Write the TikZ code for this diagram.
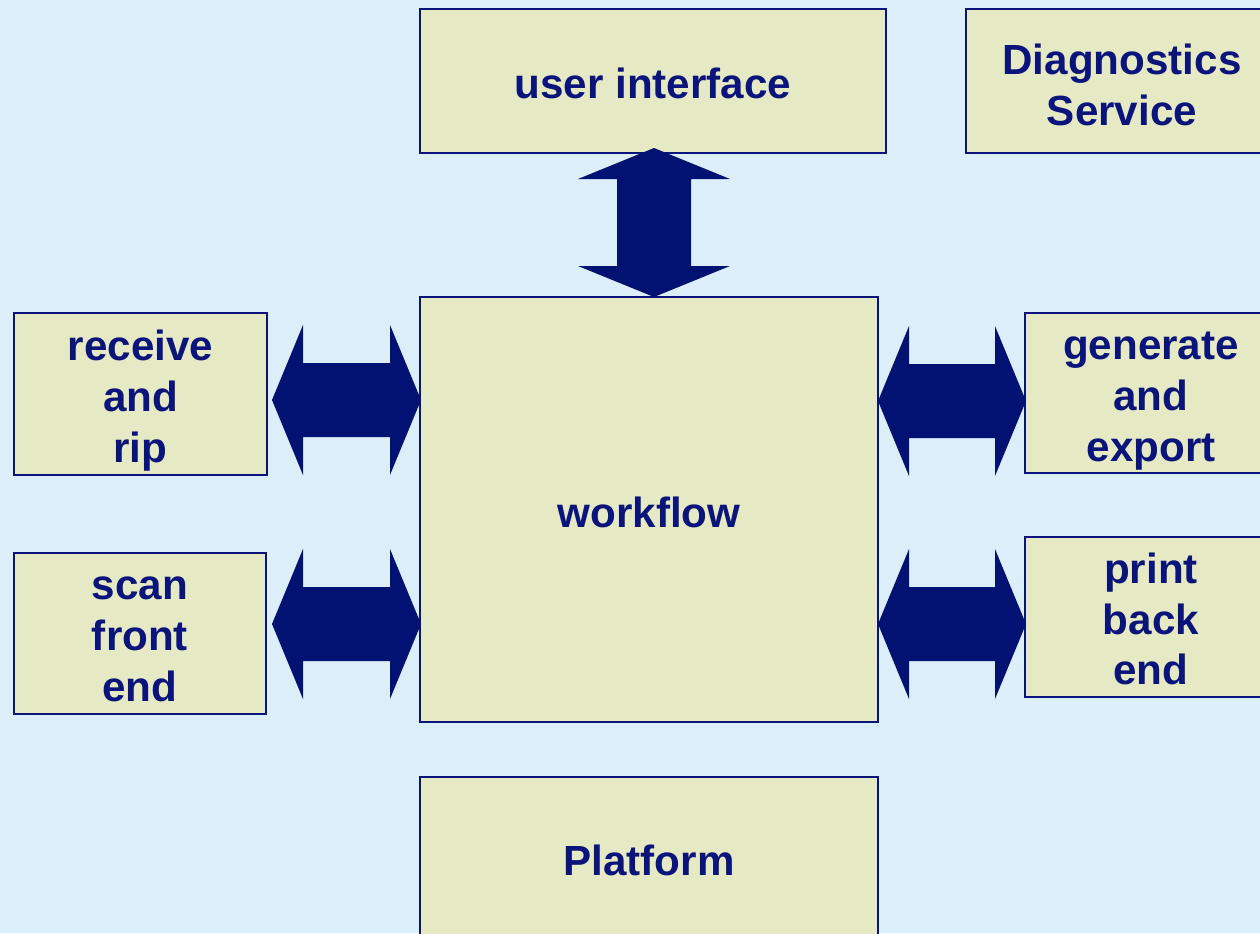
\documentclass[tikz,border=0pt]{standalone}
\usepackage{fontspec}
\setmainfont{Liberation Sans}
\usetikzlibrary{calc}

\definecolor{bgblue}{HTML}{DCEEFA}
\definecolor{boxfill}{HTML}{E6EAC4}
\definecolor{navy}{HTML}{0A147A}
\definecolor{arrownavy}{HTML}{021273}

\tikzset{
  unit/.style={draw=navy,line width=1pt,fill=boxfill,inner sep=0pt},
  txt/.style={text=navy,align=center,inner sep=0pt,
    font=\bfseries\fontsize{24}{29}\selectfont},
  fat/.style={fill=arrownavy}
}

% block double arrows, head 31 long, 150 high, shaft 74
\newcommand{\harrow}[2]{%
  \fill[fat] (#1) -- ($(#1)+(31,-75)$) -- ($(#1)+(31,-37)$) -- ($(#2)+(-31,-37)$)
    -- ($(#2)+(-31,-75)$) -- (#2) -- ($(#2)+(-31,75)$) -- ($(#2)+(-31,37)$)
    -- ($(#1)+(31,37)$) -- ($(#1)+(31,75)$) -- cycle;}
\newcommand{\varrow}[2]{%
  \fill[fat] (#1) -- ($(#1)+(-76,31)$) -- ($(#1)+(-37,31)$) -- ($(#2)+(-37,-31)$)
    -- ($(#2)+(-76,-31)$) -- (#2) -- ($(#2)+(76,-31)$) -- ($(#2)+(37,-31)$)
    -- ($(#1)+(37,31)$) -- ($(#1)+(76,31)$) -- cycle;}

\begin{document}
\begin{tikzpicture}[x=0.02cm,y=-0.02cm]

  \useasboundingbox (0,0) rectangle (1260,933);
  \clip (0,0) rectangle (1260,933);
  \fill[bgblue] (0,0) rectangle (1260,933);

  \node[unit,minimum width=9.32cm,minimum height=2.88cm,
    label={[txt,yshift=-1.1pt]center:user interface}] (ui) at (653,81) {};
  \node[unit,minimum width=6.24cm,minimum height=2.88cm,
    label={[txt,yshift=-2pt]center:Diagnostics\\Service}] (diag) at (1122,81) {};

  \node[unit,minimum width=5.06cm,minimum height=3.24cm,
    label={[txt,yshift=-4pt]center:receive\\and\\rip}] (rip) at (140.5,394) {};
  \node[unit,minimum width=5.04cm,minimum height=3.22cm,
    label={[txt,yshift=-3.4pt]center:scan\\front\\end}] (scan) at (140,633.5) {};

  \node[unit,minimum width=9.16cm,minimum height=8.5cm,
    label={[txt,yshift=-1.7pt]center:workflow}] (wf) at (649,509.5) {};

  \node[unit,minimum width=5.04cm,minimum height=3.2cm,
    label={[txt,yshift=-4.5pt]center:generate\\and\\export}] (gen) at (1151,393) {};
  \node[unit,minimum width=5.04cm,minimum height=3.2cm,
    label={[txt,yshift=-1.1pt]center:print\\back\\end}] (print) at (1151,617) {};

  \node[unit,minimum width=9.16cm,minimum height=3.32cm,
    label={[txt]center:Platform}] (plat) at (649,860) {};

  % arrow ends
  \coordinate (uiwf1) at (654,148);
  \coordinate (uiwf2) at (654,297);
  \coordinate (ripwf1) at (272,400);
  \coordinate (ripwf2) at (421,400);
  \coordinate (scanwf1) at (272,624);
  \coordinate (scanwf2) at (421,624);
  \coordinate (wfgen1) at (878,401);
  \coordinate (wfgen2) at (1026,401);
  \coordinate (wfprint1) at (878,624);
  \coordinate (wfprint2) at (1026,624);

  \varrow{uiwf1}{uiwf2}
  \harrow{ripwf1}{ripwf2}
  \harrow{scanwf1}{scanwf2}
  \harrow{wfgen1}{wfgen2}
  \harrow{wfprint1}{wfprint2}

\end{tikzpicture}
\end{document}
